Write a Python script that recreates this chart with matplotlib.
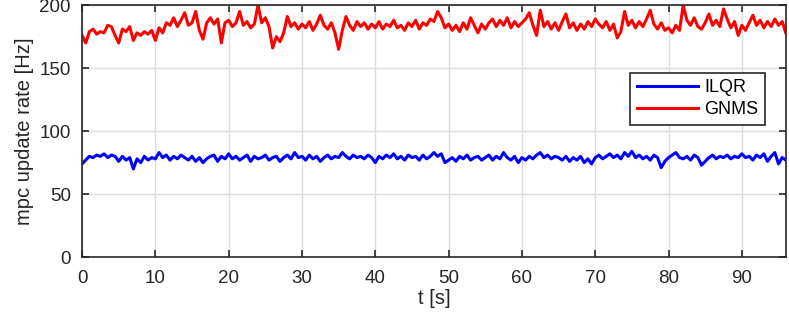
import matplotlib

matplotlib.use("Agg")

import numpy as np
import matplotlib.pyplot as plt

plt.rcParams["font.family"] = ["Liberation Sans", "DejaVu Sans"]

# time base: one reading every 0.5 s
t = np.arange(0, 96.01, 0.5)

gnms = [
    176, 170, 179, 181, 177, 179, 178, 184, 183, 176,
    170, 181, 179, 183, 172, 178, 176, 179, 177, 180,
    172, 182, 178, 186, 184, 190, 183, 188, 194, 184,
    186, 195, 180, 173, 186, 190, 185, 189, 170, 186,
    188, 183, 186, 195, 184, 187, 182, 185, 200, 186,
    190, 183, 166, 175, 171, 178, 191, 183, 186, 181,
    185, 182, 187, 180, 185, 192, 184, 181, 186, 178,
    165, 180, 191, 184, 180, 187, 183, 186, 181, 185,
    182, 187, 181, 185, 183, 188, 182, 184, 180, 186,
    183, 188, 181, 186, 184, 189, 187, 195, 190, 182,
    185, 180, 184, 179, 186, 181, 190, 184, 178, 185,
    181, 186, 189, 183, 188, 184, 190, 182, 187, 183,
    186, 189, 194, 184, 176, 196, 183, 187, 181, 186,
    180, 187, 193, 182, 186, 180, 185, 181, 187, 183,
    189, 185, 182, 187, 180, 185, 174, 179, 195, 184,
    188, 182, 187, 183, 189, 196, 185, 181, 186, 180,
    182, 178, 184, 180, 200, 188, 184, 190, 183, 181,
    186, 193, 184, 188, 183, 197, 189, 182, 187, 176,
    184, 180, 186, 192, 184, 188, 182, 187, 183, 189,
    184, 187, 178,
]

ilqr = [
    74, 77, 80, 79, 81, 80, 82, 79, 81, 80,
    76, 80, 77, 79, 70, 78, 75, 80, 77, 79,
    78, 83, 79, 81, 77, 80, 78, 81, 79, 77,
    80, 76, 79, 75, 78, 80, 81, 76, 80, 78,
    82, 78, 80, 77, 79, 81, 76, 80, 78, 79,
    81, 77, 79, 80, 76, 79, 81, 78, 83, 79,
    80, 77, 81, 78, 80, 76, 79, 81, 78, 80,
    79, 83, 80, 78, 81, 79, 80, 78, 81, 79,
    75, 80, 78, 81, 79, 82, 78, 80, 77, 81,
    79, 80, 77, 81, 78, 80, 83, 80, 82, 75,
    77, 79, 76, 80, 78, 81, 77, 79, 80, 77,
    79, 81, 77, 80, 78, 83, 79, 77, 80, 75,
    79, 77, 80, 78, 81, 83, 79, 81, 78, 80,
    79, 77, 80, 76, 79, 77, 80, 75, 78, 74,
    79, 81, 78, 80, 82, 79, 81, 78, 83, 80,
    84, 79, 81, 78, 80, 77, 81, 79, 71, 76,
    79, 81, 83, 79, 78, 80, 77, 81, 79, 73,
    76, 79, 81, 78, 80, 79, 81, 78, 80, 79,
    82, 79, 80, 77, 81, 79, 82, 76, 80, 83,
    74, 79, 77,
]

AXIS_COLOR = "#262626"

fig = plt.figure(figsize=(7.89, 3.23), dpi=100)
ax = fig.add_axes([0.104, 0.204, 0.892, 0.780])

ax.plot(t, ilqr, color="#0000ff", linewidth=2.2, label="ILQR")
ax.plot(t, gnms, color="#ff0000", linewidth=2.2, label="GNMS")

ax.set_xlim(0, 96)
ax.set_ylim(0, 200)
ax.set_xticks(np.arange(0, 91, 10))
ax.set_yticks(np.arange(0, 201, 50))
ax.grid(True, color="#dcdcdc", linewidth=1.0)
ax.set_axisbelow(True)
ax.tick_params(direction="in", top=True, right=True, length=5, width=1.2,
               colors=AXIS_COLOR, labelsize=13.5)
ax.tick_params(axis="x", pad=9)
ax.tick_params(axis="y", pad=8)
for spine in ax.spines.values():
    spine.set_color(AXIS_COLOR)
    spine.set_linewidth(1.2)

ax.set_xlabel("t [s]", fontsize=14.5, color=AXIS_COLOR, labelpad=2)
ax.set_ylabel("mpc update rate [Hz]", fontsize=14.5, color=AXIS_COLOR, labelpad=4)

leg = ax.legend(loc="upper right", bbox_to_anchor=(0.970, 0.732), borderaxespad=0,
                fontsize=13, fancybox=False, framealpha=1, edgecolor=AXIS_COLOR,
                handlelength=3.4, handletextpad=0.35, borderpad=0.35,
                labelspacing=0.3)
leg.get_frame().set_linewidth(1.2)

fig.savefig("out.png", dpi=100)
